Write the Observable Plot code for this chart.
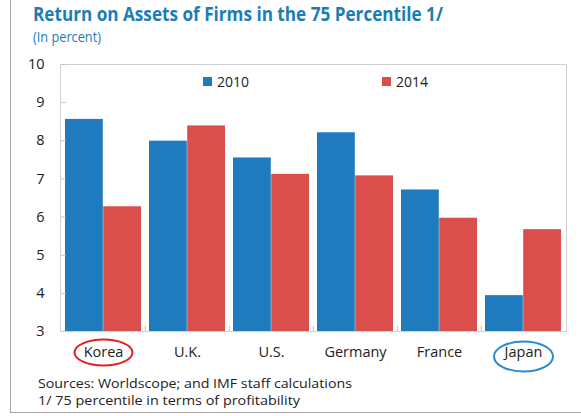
<!DOCTYPE html>
<html><head><meta charset="utf-8">
<script src="https://cdn.jsdelivr.net/npm/d3@7"></script>
<script src="https://cdn.jsdelivr.net/npm/@observablehq/plot@0.6"></script>
<style>
body{margin:0;background:#fff;font-family:"Open Sans",sans-serif;}
#wrap{position:relative;width:581px;height:416px;overflow:hidden;background:#fff;}
#border{position:absolute;left:10px;top:-2px;width:580px;height:414px;border-left:1px solid #a8a8a8;border-bottom:1px solid #a8a8a8;}
#chart{position:absolute;left:0;top:0;}
.t{position:absolute;white-space:nowrap;transform-origin:0 0;}
#title{left:33px;top:1px;font-weight:700;font-size:19px;color:#1b7db5;}
#subtitle{left:33px;top:26px;font-size:15px;color:#1b7db5;}
.cap{left:38px;font-size:13.5px;line-height:16px;color:#222;}
#cap0{top:375px;}
#cap1{top:392px;}
.leg{position:absolute;top:72px;font-size:14px;color:#222;display:flex;align-items:center;}
.sw{width:9px;height:9px;margin-right:5px;}
</style></head>
<body>
<div id="wrap">
  <div id="border"></div>
  <div id="chart"></div>
  <div id="title" class="t"></div>
  <div id="subtitle" class="t"></div>
  <div id="legend"></div>
  <div id="cap0" class="t cap"></div>
  <div id="cap1" class="t cap"></div>
</div>
<script>
const countries = ["Korea", "U.K.", "U.S.", "Germany", "France", "Japan"];
const roa2010 = [8.56, 7.99, 7.55, 8.21, 6.71, 3.94];
const roa2014 = [6.27, 8.39, 7.12, 7.08, 5.97, 5.67];
const years = ["2010", "2014"];
const yTicks = [3, 4, 5, 6, 7, 8, 9, 10];
const circledRed = ["Korea"];
const circledBlue = ["Japan"];
const title = "Return on Assets of Firms in the 75 Percentile 1/";
const subtitle = "(In percent)";
const captionLines = ["Sources: Worldscope; and IMF staff calculations", "1/ 75 percentile in terms of profitability"];

const BLUE = "#1f7bbd", RED = "#da4f4b";
const yMin = yTicks[0], yMax = yTicks[yTicks.length - 1];

const rows2010 = countries.map((c, i) => ({country: c, value: roa2010[i]}));
const rows2014 = countries.map((c, i) => ({country: c, value: roa2014[i]}));

function ellipse(rx, ry) {
  const k = 0.5523, kx = rx * k, ky = ry * k;
  return {draw(ctx) {
    ctx.moveTo(rx, 0);
    ctx.bezierCurveTo(rx, ky, kx, ry, 0, ry);
    ctx.bezierCurveTo(-kx, ry, -rx, ky, -rx, 0);
    ctx.bezierCurveTo(-rx, -ky, -kx, -ry, 0, -ry);
    ctx.bezierCurveTo(kx, -ry, rx, -ky, rx, 0);
    ctx.closePath();
  }};
}

const plot = Plot.plot({
  width: 581, height: 416,
  marginTop: 64, marginBottom: 85, marginLeft: 60, marginRight: 15,
  style: {fontFamily: "Open Sans", fontSize: "14.5px", color: "#222", background: "transparent", overflow: "visible"},
  x: {domain: countries, padding: 0, label: null, tickSize: 0, tickPadding: 15},
  y: {domain: [yMin, yMax], ticks: yTicks, tickFormat: d => String(d), label: null, tickSize: 0, tickPadding: 16},
  marks: [
    Plot.barY(rows2010, {x: "country", y1: yMin, y2: "value", fill: BLUE, insetLeft: 4, insetRight: 42.2}),
    Plot.barY(rows2014, {x: "country", y1: yMin, y2: "value", fill: RED, insetLeft: 42.2, insetRight: 4}),
    Plot.frame({stroke: "#d2d2d2"}),
    Plot.tickY(yTicks, {y: d => d, x: () => countries[0], stroke: "#c4c4c4", insetRight: 79}),
    Plot.ruleX(countries.slice(1), {x: d => d, dx: -42.17, stroke: "#c4c4c4", insetTop: 262}),
    Plot.dot(circledRed, {x: d => d, frameAnchor: "bottom", dy: 21, symbol: ellipse(29, 13), fill: "none", stroke: "#e3201f", strokeWidth: 2}),
    Plot.dot(circledBlue, {x: d => d, frameAnchor: "bottom", dy: 25, symbol: ellipse(29.5, 15), fill: "none", stroke: "#2b8ad4", strokeWidth: 2})
  ]
});
document.getElementById("chart").appendChild(plot);

// legend
const legend = document.getElementById("legend");
const legX = [203, 382];
years.forEach((y, i) => {
  const d = document.createElement("div");
  d.className = "leg";
  d.style.left = legX[i] + "px";
  d.innerHTML = `<span class="sw" style="background:${i ? RED : BLUE}"></span><span>${y}</span>`;
  legend.appendChild(d);
});

document.getElementById("title").textContent = title;
document.getElementById("subtitle").textContent = subtitle;
document.getElementById("cap0").textContent = captionLines[0];
document.getElementById("cap1").textContent = captionLines[1];

function fit(id, target) {
  const el = document.getElementById(id);
  const w = el.getBoundingClientRect().width;
  el.style.transform = `scaleX(${target / w})`;
}
fit("title", 410);
fit("subtitle", 68);
fit("cap0", 314);
fit("cap1", 262);
</script>
</body></html>
